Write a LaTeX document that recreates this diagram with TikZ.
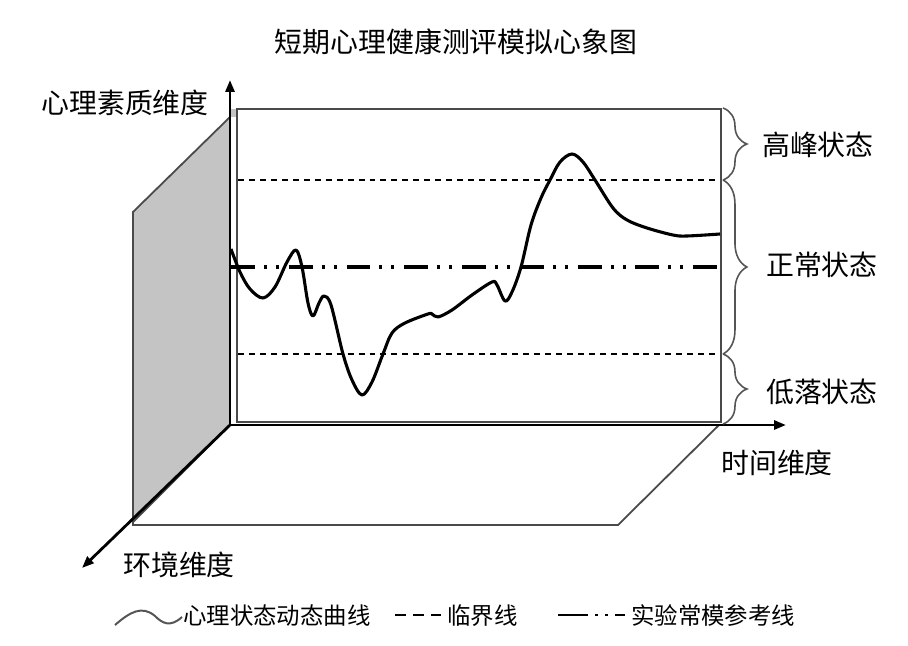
\documentclass[tikz,border=0pt]{standalone}
\usepackage{fontspec}
\setmainfont{Noto Sans CJK SC}
\usetikzlibrary{arrows.meta,decorations.pathreplacing}
\definecolor{wallgray}{HTML}{C4C4C4}
\definecolor{edgegray}{HTML}{4A4A4A}
\definecolor{bracegray}{HTML}{555555}
\tikzset{
  axisline/.style={line width=2.8pt,-{Triangle[length=12pt,width=9pt]}},
  edgeline/.style={draw=edgegray,line width=1.8pt},
  critline/.style={line width=1.6pt,dash pattern=on 6pt off 5pt},
  refline/.style={line width=3.2pt,dash pattern=on 24pt off 9pt on 3pt off 9pt on 3pt off 10pt},
  curveline/.style={line width=3.1pt,line join=round},
  bracedec/.style={draw=bracegray,line width=1.6pt,decorate,decoration={brace,amplitude=24pt}},
  lbl/.style={inner sep=0pt,font=\fontsize{28}{30}\selectfont},
  leg/.style={inner sep=0pt,anchor=west,font=\fontsize{23.5}{26}\selectfont},
}
\begin{document}
\begin{tikzpicture}[x=1bp,y=-1bp]
\useasboundingbox (0,0) rectangle (908,646);
% key points
\coordinate (O) at (230,425);
\coordinate (Ytip) at (230,80);
\coordinate (Xtip) at (786,425);
\coordinate (Ztip) at (82,568);
% side wall (gray)
\filldraw[fill=wallgray,edgeline] (133,212) -- (230,117) -- (230,425) -- (133,522) -- cycle;
% floor
\draw[edgeline] (230,425) -- (719,425) -- (618,525) -- (133,525) -- (133,522);
% back wall
\draw[edgeline] (237,422) -- (237,109) -- (721,109) -- (721,422) -- cycle;
\fill[wallgray] (230,109) -- (236,109) -- (236,117) -- (230,117) -- cycle;
% critical lines
\draw[critline] (238,180) -- (720,180);
\draw[critline] (238,354) -- (720,354);
% reference line
\draw[refline] (231,267) -- (720,267);
% curve
\draw[curveline] plot[smooth,tension=0.55] coordinates {
(231,249) (240,272) (250,289) (263,298) (275,287) (287,262) (296,250)
(302,267) (308,303) (313,316) (319,303) (324,296) (331,305) (343,354)
(352,380) (362,395) (372,382) (383,354) (392,333) (405,323) (428,314)
(432,314) (438,317) (452,310) (472,295) (492,282) (497,285) (505,301)
(512,292) (521,267) (531,225) (541,198) (550,180) (560,162) (572,154) (583,162)
(595,180) (613,208) (627,220) (647,228) (673,235) (687,236) (720,234)};
% axes
\draw[axisline] (O) -- (Ytip);
\draw[axisline] (O) -- (Xtip);
\draw[axisline] (O) -- (Ztip);
% braces
\draw[bracedec] (723,108) -- (723,180);
\draw[bracedec] (723,180) -- (723,354);
\draw[bracedec] (723,354) -- (723,424);
% labels
\node[lbl] (title) at (456,42) {短期心理健康测评模拟心象图};
\node[lbl] (ylab) at (125,103) {心理素质维度};
\node[lbl] (xlab) at (777,463) {时间维度};
\node[lbl] (zlab) at (179,565) {环境维度};
\node[lbl,anchor=west] (peak) at (762,145) {高峰状态};
\node[lbl,anchor=west] (norm) at (766,265) {正常状态};
\node[lbl,anchor=west] (low) at (766,392) {低落状态};
% legend
\draw[draw=bracegray,line width=2pt] (115,625) .. controls (130,612) and (142,605) .. (155,616) .. controls (162,623) and (170,628) .. (182,617);
\node[leg] (leg1) at (183,616) {心理状态动态曲线};
\draw[line width=3pt,dash pattern=on 11pt off 7pt] (395,615) -- (441,615);
\node[leg] (leg2) at (447,616) {临界线};
\draw[line width=3pt,dash pattern=on 30pt off 7pt on 3pt off 7pt on 3pt off 7pt] (558,615) -- (625,615);
\node[leg] (leg3) at (631,616) {实验常模参考线};
\end{tikzpicture}
\end{document}
